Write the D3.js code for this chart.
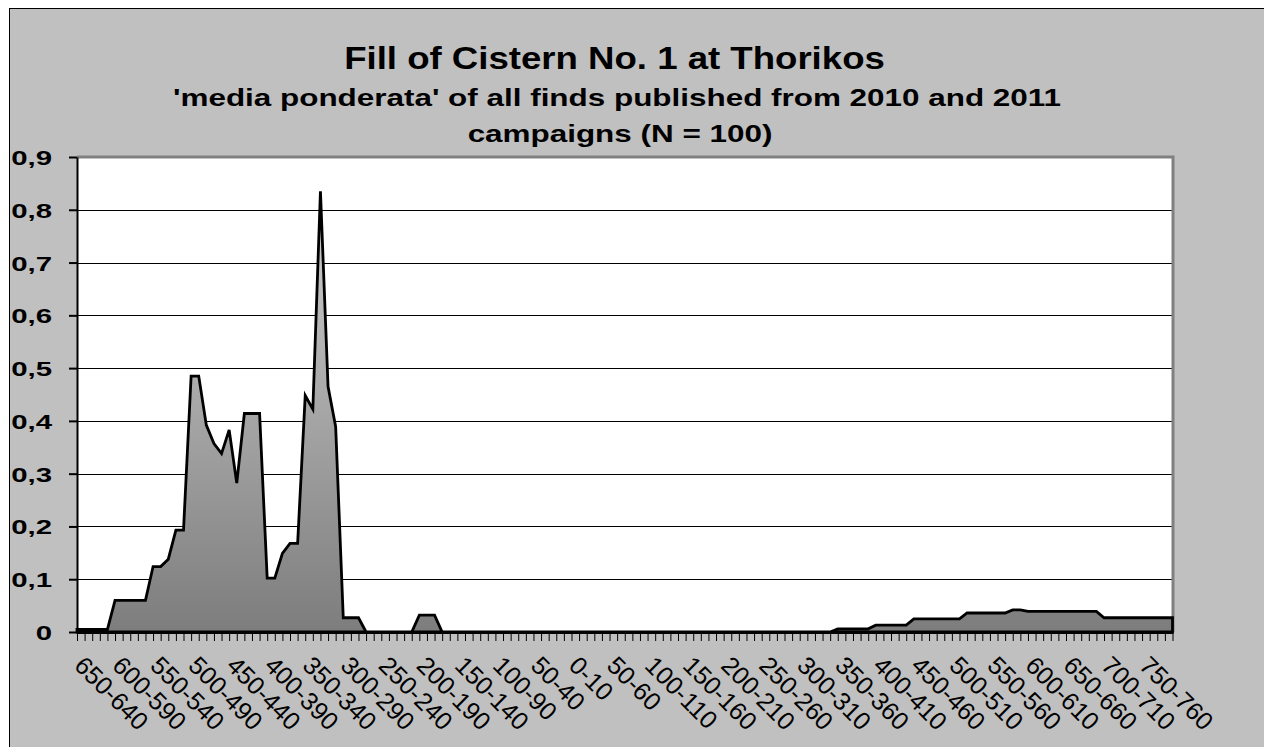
<!DOCTYPE html>
<html>
<head>
<meta charset="utf-8">
<script src="https://cdn.jsdelivr.net/npm/d3@7"></script>
<style>
	body { margin: 0; background: #fff; }
	svg { display: block; }
	text { font-family: "Liberation Sans", Arial, sans-serif; fill: #000; }
</style>
</head>
<body>
<svg id="chart"></svg>
<script>
const titleLines = [
	"Fill of Cistern No. 1 at Thorikos",
	"'media ponderata' of all finds published from 2010 and 2011",
	"campaigns (N = 100)"
];

// 10-year bins, BC counting down then AD counting up
let categories = [];
for (let s = 650; s > 0; s -= 10) categories.push(s + "-" + (s - 10));
for (let s = 0; s < 800; s += 10) categories.push(s + "-" + (s + 10));

// one value per bin
const values = [
	0.005, 0.005, 0.005, 0.005, 0.005, 0.06, 0.06, 0.06, 0.06, 0.06,
	0.124, 0.124, 0.138, 0.193, 0.193, 0.485, 0.485, 0.392, 0.357, 0.338,
	0.383, 0.282, 0.414, 0.414, 0.414, 0.102, 0.102, 0.149, 0.168, 0.168,
	0.448, 0.422, 0.835, 0.465, 0.389, 0.027, 0.027, 0.027, 0, 0,
	0, 0, 0, 0, 0, 0.032, 0.032, 0.032, 0, 0,
	0, 0, 0, 0, 0, 0, 0, 0, 0, 0,
	0, 0, 0, 0, 0, 0, 0, 0, 0, 0,
	0, 0, 0, 0, 0, 0, 0, 0, 0, 0,
	0, 0, 0, 0, 0, 0, 0, 0, 0, 0,
	0, 0, 0, 0, 0, 0, 0, 0, 0, 0,
	0.006, 0.006, 0.006, 0.006, 0.006, 0.013, 0.013, 0.013, 0.013, 0.013,
	0.025, 0.025, 0.025, 0.025, 0.025, 0.025, 0.025, 0.036, 0.036, 0.036,
	0.036, 0.036, 0.036, 0.042, 0.042, 0.039, 0.039, 0.039, 0.039, 0.039,
	0.039, 0.039, 0.039, 0.039, 0.039, 0.027, 0.027, 0.027, 0.027, 0.027,
	0.027, 0.027, 0.027, 0.027, 0.027
];

const yTicks = [0, 0.1, 0.2, 0.3, 0.4, 0.5, 0.6, 0.7, 0.8, 0.9];
const yTickLabels = ["0", "0,1", "0,2", "0,3", "0,4", "0,5", "0,6", "0,7", "0,8", "0,9"];
const labelEvery = 5;

function drawChart() {
	const width = 1264;
	const height = 747;
	const left = 77, right = 1173, top = 157, bottom = 632;

	let data = categories.map((c, i) => ({ cat: c, value: values[i] }));

	let xScale = d3.scalePoint()
		.domain(categories)
		.range([left, right - 0.5]);

	let yScale = d3.scaleLinear()
		.domain([0, 0.9])
		.range([bottom, top]);

	let svg = d3.select("#chart")
		.attr("width", width)
		.attr("height", height);

	let defs = svg.append("defs");
	let grad = defs.append("linearGradient")
		.attr("id", "areaFill")
		.attr("x1", 0).attr("y1", 0)
		.attr("x2", 0).attr("y2", 1);
	grad.append("stop").attr("offset", 0).attr("stop-color", "#cfcfcf");
	grad.append("stop").attr("offset", 1).attr("stop-color", "#7d7d7d");

	// chart area
	svg.append("rect")
		.attr("x", 9.5)
		.attr("y", 8.5)
		.attr("width", width)
		.attr("height", height)
		.attr("fill", "#c0c0c0")
		.attr("stroke", "#000");

	// titles
	const titleStyle = [
		{ y: 69, size: 30.5, sx: 1.2, cx: 614.5 },
		{ y: 105.5, size: 24, sx: 1.31, cx: 617 },
		{ y: 141.5, size: 24, sx: 1.31, cx: 620 }
	];
	svg.selectAll(".title")
		.data(titleLines)
		.enter()
		.append("text")
			.classed("title", true)
			.attr("transform", (d, i) => `translate(${titleStyle[i].cx}, ${titleStyle[i].y}) scale(${titleStyle[i].sx}, 1)`)
			.style("text-anchor", "middle")
			.style("font-weight", "bold")
			.style("font-size", (d, i) => titleStyle[i].size + "px")
			.text(d => d);

	// plot area
	svg.append("rect")
		.attr("x", left)
		.attr("y", top)
		.attr("width", right - left)
		.attr("height", bottom - top)
		.attr("fill", "#fff");

	svg.append("g")
		.selectAll("line")
		.data(yTicks.filter(d => d > 0 && d < 0.9))
		.enter()
		.append("line")
			.attr("x1", left)
			.attr("x2", right)
			.attr("y1", d => Math.round(yScale(d)) + 0.5)
			.attr("y2", d => Math.round(yScale(d)) + 0.5)
			.attr("stroke", "#000")
			.attr("stroke-width", 1);

	// gray frame top and right
	svg.append("path")
		.attr("d", `M${left},${top} H${right} V${bottom}`)
		.attr("fill", "none")
		.attr("stroke", "#808080")
		.attr("stroke-width", 3);

	let area = d3.area()
		.x(d => xScale(d.cat))
		.y0(yScale(0))
		.y1(d => yScale(d.value));

	svg.append("path")
		.datum(data)
		.attr("d", area)
		.attr("fill", "url(#areaFill)")
		.attr("stroke", "#000")
		.attr("stroke-width", 2.8)
		.attr("stroke-linejoin", "miter");

	// x axis: tick for every bin, label every 5th
	let xAxis = d3.axisBottom(xScale)
		.tickSize(9)
		.tickSizeOuter(0)
		.tickFormat("");

	let gx = svg.append("g")
		.attr("transform", `translate(0, ${bottom})`)
		.call(xAxis);
	gx.select(".domain").attr("stroke-width", 3);
	gx.selectAll(".tick line").attr("stroke-width", 1);

	svg.selectAll(".xlabel")
		.data(categories.filter((d, i) => i % labelEvery === 0))
		.enter()
		.append("text")
			.classed("xlabel", true)
			.attr("transform", d => `translate(${xScale(d) - 4}, 667) rotate(45)`)
			.style("font-size", "25px")
			.text(d => d);

	// y axis
	let yAxis = d3.axisLeft(yScale)
		.tickValues(yTicks)
		.tickSize(8)
		.tickSizeOuter(0)
		.tickFormat("");

	let gy = svg.append("g")
		.attr("transform", `translate(${left}, 0)`)
		.call(yAxis);
	gy.select(".domain").attr("stroke-width", 2);
	gy.selectAll(".tick line").attr("stroke-width", 2);

	svg.selectAll(".ylabel")
		.data(yTicks)
		.enter()
		.append("text")
			.classed("ylabel", true)
			.attr("transform", d => `translate(52, ${yScale(d) + 8}) scale(1.4, 1)`)
			.style("text-anchor", "end")
			.style("font-weight", "bold")
			.style("font-size", "21px")
			.text((d, i) => yTickLabels[i]);
}

document.addEventListener("DOMContentLoaded", drawChart);
</script>
</body>
</html>
